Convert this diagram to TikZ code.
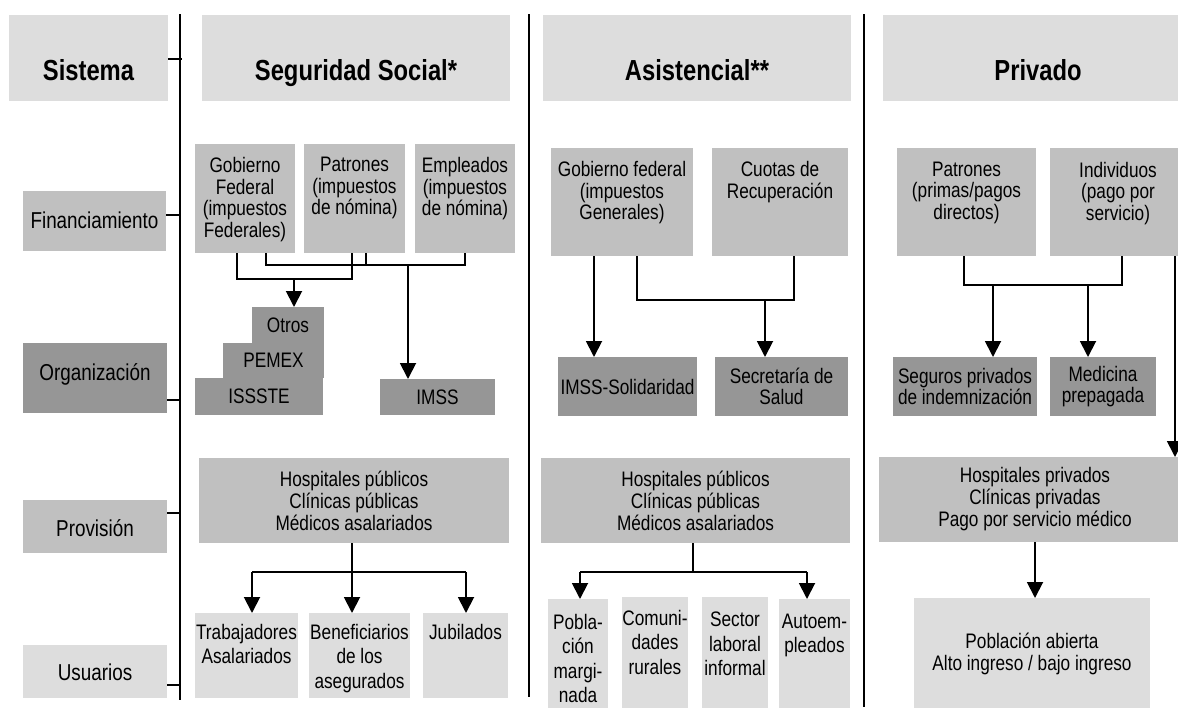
\documentclass[tikz,border=0pt]{standalone}
\usepackage{fontspec}
\setmainfont{Liberation Sans}[FakeStretch=0.82]
\usetikzlibrary{arrows.meta}
\definecolor{grisclaro}{HTML}{DDDDDD}
\definecolor{grismedio}{HTML}{C0C0C0}
\definecolor{grisoscuro}{HTML}{969696}
\newcommand{\ftit}{\fontsize{29}{32}\selectfont\bfseries}
\newcommand{\ffila}{\fontsize{23}{26}\selectfont}
\newcommand{\fcaja}{\fontsize{21}{21.5}\selectfont}
\newcommand{\fprov}{\fontsize{21}{22}\selectfont}
\newcommand{\fusu}{\fontsize{21}{24.5}\selectfont}
\tikzset{
  caja/.style={fill=#1, inner sep=0pt, outer sep=0pt, align=center, font=\fcaja},
  tam/.style 2 args={minimum width=#1pt, minimum height=#2pt},
  titulo/.style={font=\ftit, text height=44pt, text depth=0pt},
  arriba/.style 2 args={label={[anchor=north, align=center, font=\fcaja, inner sep=0pt, yshift=-#1pt]north:#2}},
  arribausu/.style 2 args={label={[anchor=north, align=center, font=\fusu, inner sep=0pt, yshift=-#1pt]north:#2}},
  flecha/.style={-{Triangle[width=16pt,length=16pt]}}
}
\begin{document}
\begin{tikzpicture}[x=1pt, y=-1pt, line width=1.9pt]
  \path[use as bounding box, clip] (0,0) rectangle (1178,707);
  %encabezados
  \node[caja=grisclaro, tam={159}{86}, titulo] (sis) at (88.5,58) {Sistema};
  \node[caja=grisclaro, tam={308}{86}, titulo] (hss) at (356,58) {Seguridad Social*};
  \node[caja=grisclaro, tam={308}{86}, titulo] (has) at (697,58) {Asistencial**};
  \node[caja=grisclaro, tam={310}{86}, titulo] (hpr) at (1038,58) {Privado};
  %filas
  \node[caja=grismedio, tam={143}{60}, font=\ffila, text height=16pt, text depth=2pt] (fin) at (94.5,221) {Financiamiento};
  \node[caja=grisoscuro, tam={144}{70}, font=\ffila, text height=10pt, text depth=6pt] (org) at (95,378) {Organización};
  \node[caja=grismedio, tam={144}{53}, font=\ffila, text height=21pt, text depth=2pt] (prov) at (95,526.5) {Provisión};
  \node[caja=grisclaro, tam={144}{53}, font=\ffila, text height=19pt, text depth=2pt] (usu) at (95,671.5) {Usuarios};
  %divisiones
  \coordinate (d1a) at (180,14);  \coordinate (d1b) at (180,700);
  \coordinate (d2a) at (529,14);  \coordinate (d2b) at (529,697);
  \coordinate (d3a) at (864,14);  \coordinate (d3b) at (864,707);
  \draw (d1a) -- (d1b);
  \draw (d2a) -- (d2b);
  \draw (d3a) -- (d3b);
  \draw ([yshift=-1pt]sis.east) -- ++(14,0);
  \draw ([yshift=6pt]fin.east) -- ++(14,0);
  \draw ([yshift=-22pt]org.east) -- ++(13,0);
  \draw ([yshift=13.5pt]prov.east) -- ++(13,0);
  \draw ([yshift=-13.5pt]usu.east) -- ++(13,0);

  %seguridad social
  \node[caja=grismedio, tam={100}{109}, arriba={12.5}{Gobierno\\Federal\\(impuestos\\Federales)}] (gfss) at (245,198.5) {};
  \node[caja=grismedio, tam={101}{109}, arriba={12.5}{Patrones\\(impuestos\\de nómina)}] (patss) at (354.5,198.5) {};
  \node[caja=grismedio, tam={100}{109}, arriba={12.5}{Empleados\\(impuestos\\de nómina)}] (empss) at (465,198.5) {};
  \node[caja=grisoscuro, tam={72}{36}] (otros) at (288,325) {Otros};
  \node[caja=grisoscuro, tam={101}{35}] (pemex) at (273.5,360.5) {PEMEX};
  \node[caja=grisoscuro, tam={128}{37}] (issste) at (259,396.5) {ISSSTE};
  \node[caja=grisoscuro, tam={115}{36}] (imss) at (437.5,397) {IMSS};
  \node[caja=grismedio, tam={310}{85}, font=\fprov] (provss) at (354,500.5) {Hospitales públicos\\Clínicas públicas\\Médicos asalariados};
  \node[caja=grisclaro, tam={103}{85}, arribausu={10}{Trabajadores\\Asalariados}] (trab) at (246.5,655.5) {};
  \node[caja=grisclaro, tam={101}{85}, arribausu={10}{Beneficiarios\\de los\\asegurados}] (benef) at (359.5,655.5) {};
  \node[caja=grisclaro, tam={85}{85}, arribausu={10}{Jubilados}] (jub) at (465.5,655.5) {};
  \coordinate (b1i) at (237,279); \coordinate (b1d) at (352,279); \coordinate (b1) at (294,279);
  \coordinate (b2i) at (266,265); \coordinate (b2d) at (465,265);
  \coordinate (b2m) at (366,265); \coordinate (b2) at (408,265);
  \draw (gfss.south -| b1i) -- (b1i) -- (b1d) -- (patss.south -| b1d);
  \draw[flecha] (b1) -- (otros.north -| b1);
  \draw (gfss.south -| b2i) -- (b2i) -- (b2d) -- (empss.south -| b2d);
  \draw (patss.south -| b2m) -- (b2m);
  \draw[flecha] (b2) -- (imss.north -| b2);
  \coordinate (p1i) at (252,572); \coordinate (p1) at (352,572); \coordinate (p1d) at (466,572);
  \draw (provss.south -| p1) -- (p1);
  \draw (p1i) -- (p1d);
  \draw[flecha] (p1i) -- (trab.north -| p1i);
  \draw[flecha] (p1) -- (benef.north -| p1);
  \draw[flecha] (p1d) -- (jub.north -| p1d);

  %asistencial
  \node[caja=grismedio, tam={142}{108}, arriba={12.5}{Gobierno federal\\(impuestos\\Generales)}] (gfas) at (622,202) {};
  \node[caja=grismedio, tam={136}{108}, arriba={12.5}{Cuotas de\\Recuperación}] (cuotas) at (780,202) {};
  \node[caja=grisoscuro, tam={139}{59}] (imsssol) at (627.5,386.5) {IMSS-Solidaridad};
  \node[caja=grisoscuro, tam={133}{59}] (ssa) at (781.5,386.5) {Secretaría de\\Salud};
  \node[caja=grismedio, tam={309}{85}, font=\fprov] (provas) at (695.5,500.5) {Hospitales públicos\\Clínicas públicas\\Médicos asalariados};
  \node[caja=grisclaro, tam={60}{112}, arribausu={14}{Pobla-\\ción\\margi-\\nada}] (pobm) at (578,655) {};
  \node[caja=grisclaro, tam={66}{114}, arribausu={12}{Comuni-\\dades\\rurales}] (comr) at (655,654) {};
  \node[caja=grisclaro, tam={66}{114}, arribausu={14}{Sector\\laboral\\informal}] (sli) at (735,654) {};
  \node[caja=grisclaro, tam={71}{112}, arribausu={14}{Autoem-\\pleados}] (autoe) at (814.5,655) {};
  \coordinate (a1) at (594,300);
  \coordinate (a2i) at (637,300); \coordinate (a2d) at (794,300); \coordinate (a2) at (765,300);
  \draw[flecha] (gfas.south -| a1) -- (imsssol.north -| a1);
  \draw (gfas.south -| a2i) -- (a2i) -- (a2d) -- (cuotas.south -| a2d);
  \draw[flecha] (a2) -- (ssa.north -| a2);
  \coordinate (p2i) at (580,572); \coordinate (p2) at (693,572); \coordinate (p2d) at (807,572);
  \draw (provas.south -| p2) -- (p2);
  \draw (p2i) -- (p2d);
  \draw[flecha] (p2i) -- (pobm.north -| p2i);
  \draw[flecha] (p2d) -- (autoe.north -| p2d);

  %privado
  \node[caja=grismedio, tam={139}{108}, arriba={13}{Patrones\\(primas/pagos\\directos)}] (patpr) at (966.5,202) {};
  \node[caja=grismedio, tam={136}{108}, arriba={13}{Individuos\\(pago por\\servicio)}] (indiv) at (1118,202) {};
  \node[caja=grisoscuro, tam={144}{59}] (seguros) at (965,386.5) {Seguros privados\\de indemnización};
  \node[caja=grisoscuro, tam={106}{59}] (medic) at (1103,386.5) {Medicina\\prepagada};
  \node[caja=grismedio, tam={312}{85}, font=\fprov] (provpr) at (1035,499.5) {Hospitales privados\\Clínicas privadas\\Pago por servicio médico};
  \node[caja=grisclaro, tam={236}{112}] (pobab) at (1032,654) {Población abierta\\Alto ingreso / bajo ingreso};
  \coordinate (r1i) at (964,285); \coordinate (r1d) at (1122,285);
  \coordinate (r1a) at (993,285); \coordinate (r1b) at (1088,285);
  \coordinate (r2) at (1175,300);
  \draw (patpr.south -| r1i) -- (r1i) -- (r1d) -- (indiv.south -| r1d);
  \draw[flecha] (r1a) -- (seguros.north -| r1a);
  \draw[flecha] (r1b) -- (medic.north -| r1b);
  \draw[flecha] (indiv.south -| r2) -- (provpr.north -| r2);
  \draw[flecha] (provpr.south) -- (pobab.north -| provpr.south);
\end{tikzpicture}
\end{document}
